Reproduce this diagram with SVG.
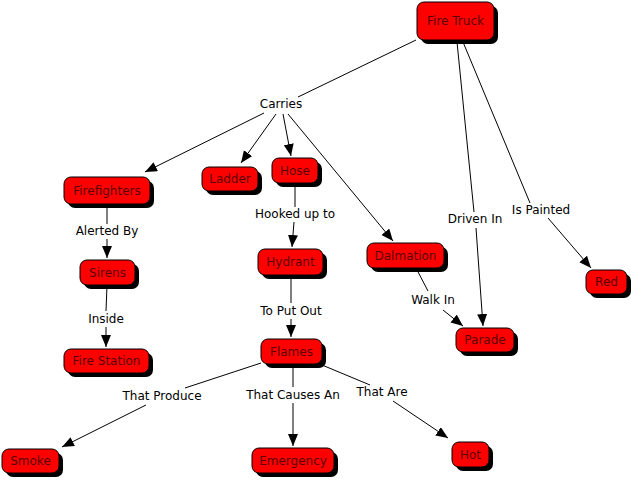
<svg xmlns="http://www.w3.org/2000/svg" width="631" height="482" viewBox="0 0 631 482">
<defs>
<style>
.box{fill:#ff0000;stroke:#000;stroke-width:1}
.sh{fill:#000}
.nt{font-family:"DejaVu Sans",Verdana,sans-serif;font-size:12px;fill:#5a0000;text-anchor:middle}
.lt{font-family:"DejaVu Sans",Verdana,sans-serif;font-size:12px;fill:#000;text-anchor:middle}
.c{stroke:#000;stroke-width:1;fill:none}
.a{marker-end:url(#ah)}
</style>
<marker id="ah" markerUnits="userSpaceOnUse" markerWidth="13" markerHeight="11" refX="12" refY="5" orient="auto">
<path d="M0,0 L12,5 L0,10 z" fill="#000"/>
</marker>
</defs>
<rect width="631" height="482" fill="#fff"/>
<g id="connectors">
<line class="c" x1="416" y1="40" x2="298" y2="97"/>
<line class="c a" x1="264" y1="113" x2="145" y2="172"/>
<line class="c a" x1="276" y1="114" x2="241" y2="163"/>
<line class="c a" x1="283" y1="114" x2="291" y2="156"/>
<line class="c a" x1="288" y1="114" x2="393" y2="241"/>
<line class="c" x1="457" y1="42" x2="474" y2="212"/>
<line class="c a" x1="476" y1="228" x2="483" y2="326"/>
<line class="c" x1="463" y1="42" x2="530" y2="203"/>
<line class="c a" x1="548" y1="218" x2="591" y2="268"/>
<line class="c" x1="416" y1="268" x2="428" y2="291"/>
<line class="c a" x1="443" y1="310" x2="463" y2="326"/>
<line class="c" x1="107" y1="204" x2="107" y2="224"/>
<line class="c a" x1="107" y1="239" x2="107" y2="258"/>
<line class="c" x1="107" y1="285" x2="106" y2="311"/>
<line class="c a" x1="106" y1="327" x2="106" y2="347"/>
<line class="c" x1="295" y1="183" x2="295" y2="207"/>
<line class="c a" x1="294" y1="222" x2="292" y2="247"/>
<line class="c" x1="291" y1="275" x2="291" y2="303"/>
<line class="c a" x1="291" y1="319" x2="291" y2="337"/>
<line class="c" x1="261" y1="363" x2="185" y2="388"/>
<line class="c a" x1="146" y1="405" x2="62" y2="447"/>
<line class="c" x1="293" y1="364" x2="293" y2="387"/>
<line class="c a" x1="293" y1="403" x2="293" y2="446"/>
<line class="c" x1="322" y1="365" x2="370" y2="385"/>
<line class="c a" x1="393" y1="401" x2="448" y2="438"/>
</g>
<g id="labels">
<text class="lt" x="281" y="108">Carries</text>
<text class="lt" x="107" y="235">Alerted By</text>
<text class="lt" x="106" y="323">Inside</text>
<text class="lt" x="295" y="218">Hooked up to</text>
<text class="lt" x="291" y="315">To Put Out</text>
<text class="lt" x="162" y="400">That Produce</text>
<text class="lt" x="293" y="399">That Causes An</text>
<text class="lt" x="382" y="396">That Are</text>
<text class="lt" x="433" y="304">Walk In</text>
<text class="lt" x="475" y="223">Driven In</text>
<text class="lt" x="541" y="214">Is Painted</text>
</g>
<g id="fire-truck"><rect class="sh" x="421" y="6" width="77" height="38" rx="7"/><rect class="box" x="417" y="2" width="77" height="38" rx="7"/><text class="nt" x="455.5" y="25">Fire Truck</text></g>
<g id="firefighters"><rect class="sh" x="68" y="181" width="86" height="27" rx="7"/><rect class="box" x="64" y="177" width="86" height="27" rx="7"/><text class="nt" x="107" y="195">Firefighters</text></g>
<g id="ladder"><rect class="sh" x="206" y="171" width="56" height="24" rx="7"/><rect class="box" x="202" y="167" width="56" height="24" rx="7"/><text class="nt" x="230" y="183">Ladder</text></g>
<g id="hose"><rect class="sh" x="276" y="162" width="46" height="25" rx="7"/><rect class="box" x="272" y="158" width="46" height="25" rx="7"/><text class="nt" x="295" y="175">Hose</text></g>
<g id="sirens"><rect class="sh" x="84" y="264" width="55" height="25" rx="7"/><rect class="box" x="80" y="260" width="55" height="25" rx="7"/><text class="nt" x="107.5" y="277">Sirens</text></g>
<g id="fire-station"><rect class="sh" x="68" y="353" width="85" height="24" rx="7"/><rect class="box" x="64" y="349" width="85" height="24" rx="7"/><text class="nt" x="106.5" y="365">Fire Station</text></g>
<g id="hydrant"><rect class="sh" x="262" y="253" width="65" height="26" rx="7"/><rect class="box" x="258" y="249" width="65" height="26" rx="7"/><text class="nt" x="290.5" y="266">Hydrant</text></g>
<g id="dalmation"><rect class="sh" x="371" y="247" width="77" height="25" rx="7"/><rect class="box" x="367" y="243" width="77" height="25" rx="7"/><text class="nt" x="405.5" y="260">Dalmation</text></g>
<g id="parade"><rect class="sh" x="460" y="332" width="58" height="24" rx="7"/><rect class="box" x="456" y="328" width="58" height="24" rx="7"/><text class="nt" x="485" y="344">Parade</text></g>
<g id="red"><rect class="sh" x="590" y="274" width="41" height="24" rx="7"/><rect class="box" x="586" y="270" width="41" height="24" rx="7"/><text class="nt" x="606.5" y="286">Red</text></g>
<g id="flames"><rect class="sh" x="265" y="343" width="61" height="25" rx="7"/><rect class="box" x="261" y="339" width="61" height="25" rx="7"/><text class="nt" x="291.5" y="356">Flames</text></g>
<g id="smoke"><rect class="sh" x="6" y="453" width="57" height="24" rx="7"/><rect class="box" x="2" y="449" width="57" height="24" rx="7"/><text class="nt" x="30.5" y="465">Smoke</text></g>
<g id="emergency"><rect class="sh" x="256" y="452" width="82" height="25" rx="7"/><rect class="box" x="252" y="448" width="82" height="25" rx="7"/><text class="nt" x="293" y="465">Emergency</text></g>
<g id="hot"><rect class="sh" x="456" y="446" width="37" height="25" rx="7"/><rect class="box" x="452" y="442" width="37" height="25" rx="7"/><text class="nt" x="470.5" y="459">Hot</text></g>
</svg>
